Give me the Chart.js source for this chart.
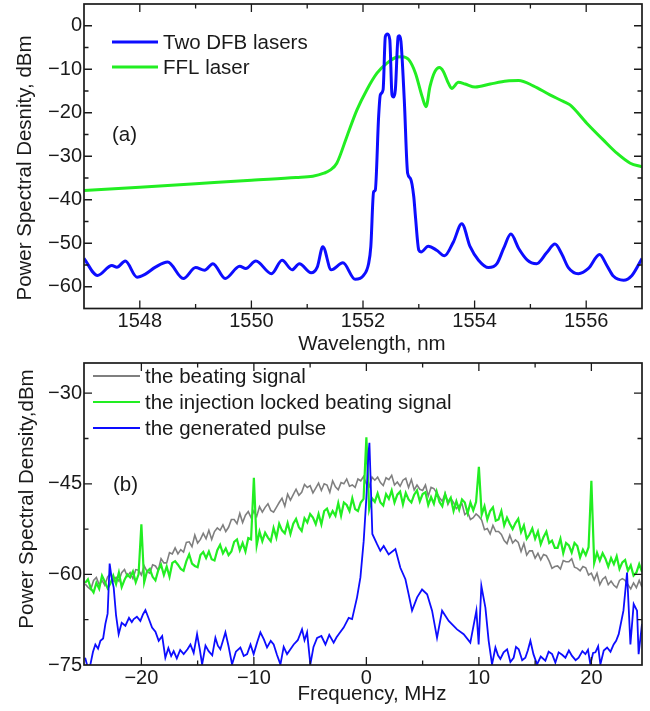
<!DOCTYPE html>
<html><head><meta charset="utf-8">
<script src="https://cdn.jsdelivr.net/npm/chart.js@4/dist/chart.umd.min.js"></script>
<style>
html,body{margin:0;padding:0;background:#fff;}
#wrap{position:relative;width:650px;height:711px;overflow:hidden;}
#c1{position:absolute;left:0;top:0;}
#c2{position:absolute;left:0;top:355px;}
</style></head><body>
<div id="wrap"><canvas id="c1" width="650" height="355"></canvas><canvas id="c2" width="650" height="356"></canvas></div>
<script>
// ---------- Panel (a) data ----------
const wlDfb = [1547.0,1547.24,1547.5,1547.59,1547.74,1547.95,1548.1,1548.28,1548.5,1548.78,1549.0,1549.16,1549.31,1549.53,1549.79,1549.9,1550.08,1550.36,1550.55,1550.73,1550.86,1551.07,1551.18,1551.28,1551.43,1551.64,1551.86,1552.01,1552.1,1552.14,1552.19,1552.22,1552.28,1552.31,1552.36,1552.4,1552.44,1552.48,1552.52,1552.55,1552.58,1552.63,1552.65,1552.68,1552.74,1552.8,1552.85,1552.91,1552.94,1553.0,1553.04,1553.17,1553.32,1553.46,1553.62,1553.77,1553.92,1554.07,1554.25,1554.4,1554.52,1554.65,1554.79,1554.94,1555.11,1555.29,1555.44,1555.56,1555.68,1555.86,1556.04,1556.24,1556.37,1556.49,1556.67,1556.82,1557.0];
const dfbPsd = [-53.5,-57.4,-55.1,-55.5,-54.1,-57.8,-57.1,-55.5,-54.3,-58.1,-55.6,-56.2,-54.7,-58.1,-55.3,-55.8,-54.1,-57.0,-53.9,-56.1,-54.7,-56.8,-55.5,-50.8,-56.1,-54.5,-58.3,-57.4,-54.7,-50.8,-38.2,-37.8,-20.9,-15.9,-14.7,-2.5,-1.9,-3.2,-15.9,-16.4,-14.7,-2.5,-2.3,-3.6,-17.1,-33.9,-35.1,-39.3,-43.9,-51.6,-52.0,-50.7,-51.6,-52.9,-49.7,-45.5,-50.8,-53.9,-55.6,-54.7,-51.2,-47.9,-51.2,-53.8,-54.7,-52.2,-50.2,-52.4,-55.6,-57.0,-55.8,-52.6,-55.1,-57.6,-58.5,-57.4,-53.5];
const wlFfl = [1547.0,1548.0,1549.0,1550.0,1550.8,1551.1,1551.3,1551.41,1551.53,1551.71,1551.89,1552.07,1552.25,1552.43,1552.61,1552.7,1552.82,1552.94,1553.06,1553.13,1553.2,1553.29,1553.37,1553.44,1553.53,1553.59,1553.71,1553.83,1554.01,1554.28,1554.58,1554.79,1555.05,1555.35,1555.59,1555.71,1556.01,1556.31,1556.55,1556.79,1557.0];
const fflPsd = [-37.9,-37.1,-36.3,-35.5,-34.9,-34.6,-33.9,-33.2,-31.6,-25.5,-19.4,-14.7,-10.9,-8.6,-7.2,-7.1,-7.8,-10.9,-16.3,-18.6,-14.0,-10.5,-9.6,-10.5,-13.2,-14.4,-13.0,-13.4,-14.1,-13.4,-12.7,-12.6,-13.8,-15.9,-17.4,-18.2,-22.4,-26.3,-29.3,-31.6,-32.4];
const wlTicks = [1548,1550,1552,1554,1556];
const wlMinor = [1549,1551,1553,1555];
const psdTicksA = [0,-10,-20,-30,-40,-50,-60];
const psdMinorA = [-5,-15,-25,-35,-45,-55];

// ---------- Panel (b) data ----------
const freqGrid = [-25,-24.75,-24.5,-24.25,-24,-23.75,-23.5,-23.25,-23,-22.75,-22.5,-22.25,-22,-21.75,-21.5,-21.25,-21,-20.75,-20.5,-20.25,-20,-19.75,-19.5,-19.25,-19,-18.75,-18.5,-18.25,-18,-17.75,-17.5,-17.25,-17,-16.75,-16.5,-16.25,-16,-15.75,-15.5,-15.25,-15,-14.75,-14.5,-14.25,-14,-13.75,-13.5,-13.25,-13,-12.75,-12.5,-12.25,-12,-11.75,-11.5,-11.25,-11,-10.75,-10.5,-10.25,-10,-9.75,-9.5,-9.25,-9,-8.75,-8.5,-8.25,-8,-7.75,-7.5,-7.25,-7,-6.75,-6.5,-6.25,-6,-5.75,-5.5,-5.25,-5,-4.75,-4.5,-4.25,-4,-3.75,-3.5,-3.25,-3,-2.75,-2.5,-2.25,-2,-1.75,-1.5,-1.25,-1,-0.75,-0.5,-0.25,0,0.25,0.5,0.75,1,1.25,1.5,1.75,2,2.25,2.5,2.75,3,3.25,3.5,3.75,4,4.25,4.5,4.75,5,5.25,5.5,5.75,6,6.25,6.5,6.75,7,7.25,7.5,7.75,8,8.25,8.5,8.75,9,9.25,9.5,9.75,10,10.25,10.5,10.75,11,11.25,11.5,11.75,12,12.25,12.5,12.75,13,13.25,13.5,13.75,14,14.25,14.5,14.75,15,15.25,15.5,15.75,16,16.25,16.5,16.75,17,17.25,17.5,17.75,18,18.25,18.5,18.75,19,19.25,19.5,19.75,20,20.25,20.5,20.75,21,21.25,21.5,21.75,22,22.25,22.5,22.75,23,23.25,23.5,23.75,24,24.25,24.5];
const beatingDb = [-61.6,-62.1,-62.5,-61.0,-60.5,-61.7,-61.0,-61.8,-60.4,-59.9,-61.1,-60.5,-61.1,-59.7,-59.2,-60.3,-59.7,-60.7,-59.2,-59.3,-60.1,-58.6,-59.5,-59.8,-58.4,-58.6,-59.3,-57.4,-58.1,-58.1,-56.4,-56.6,-55.6,-56.6,-55.9,-56.3,-54.7,-54.6,-55.4,-53.5,-54.8,-54.2,-53.2,-54.1,-52.7,-54.2,-52.9,-52.3,-52.7,-51.8,-52.9,-52.2,-50.9,-50.9,-51.6,-49.9,-51.4,-50.2,-49.6,-50.6,-49.5,-50.4,-48.8,-49.7,-48.9,-48.3,-49.4,-49.7,-48.9,-48.1,-47.4,-48.7,-46.7,-47.7,-46.8,-45.9,-46.9,-46.4,-45.1,-45.6,-45.3,-46.5,-45.7,-44.9,-46.1,-45.0,-45.2,-46.4,-44.5,-45.5,-46.0,-44.8,-45.0,-44.2,-45.4,-45.2,-45.6,-44.2,-44.5,-43.8,-45.0,-45.5,-43.9,-44.4,-43.9,-44.8,-45.3,-44.0,-44.3,-43.6,-45.2,-44.7,-45.4,-44.4,-44.1,-45.6,-44.3,-46.0,-45.2,-45.9,-46.1,-45.2,-47.0,-45.6,-45.8,-46.5,-47.3,-47.9,-46.6,-48.4,-47.4,-48.1,-49.1,-48.6,-48.3,-50.1,-49.7,-50.9,-50.6,-50.0,-50.4,-51.0,-52.6,-52.4,-53.3,-51.9,-52.9,-52.9,-53.4,-54.4,-54.9,-53.5,-54.8,-54.3,-54.7,-56.2,-54.9,-56.8,-56.1,-56.1,-57.3,-56.5,-57.6,-56.7,-56.9,-57.8,-59.0,-58.7,-58.6,-59.1,-57.7,-57.9,-57.9,-57.4,-58.8,-59.0,-59.4,-58.7,-58.9,-60.1,-59.8,-60.9,-59.8,-61.7,-60.8,-60.4,-61.7,-61.1,-61.8,-62.2,-61.0,-60.7,-61.0,-61.7,-62.4,-61.4,-62.2,-61.0,-62.1];
const lockedDb = [-61.4,-60.8,-62.3,-63.0,-61.4,-62.4,-60.2,-61.2,-62.3,-61.5,-60.2,-61.6,-59.7,-62.1,-60.9,-60.0,-60.5,-59.5,-61.3,-60.0,-51.7,-61.3,-59.5,-59.1,-60.4,-61.0,-59.3,-58.4,-60.1,-58.7,-60.4,-58.1,-57.8,-58.4,-59.1,-59.4,-57.8,-56.7,-58.2,-58.6,-58.8,-56.8,-56.3,-57.3,-56.2,-57.5,-57.7,-56.0,-55.1,-56.5,-55.7,-56.8,-56.2,-54.6,-54.2,-56.0,-54.8,-56.2,-54.0,-54.2,-44.0,-55.2,-52.9,-54.5,-53.1,-53.9,-54.5,-52.3,-53.9,-51.6,-52.7,-53.2,-51.5,-53.3,-51.6,-50.8,-52.2,-52.8,-50.7,-51.4,-50.0,-50.6,-51.7,-50.0,-51.7,-49.5,-49.1,-50.4,-49.5,-50.3,-48.2,-50.3,-48.1,-48.5,-49.5,-47.4,-49.2,-49.5,-48.1,-47.5,-37.3,-49.2,-47.4,-48.0,-46.6,-48.1,-48.6,-46.7,-47.5,-46.1,-48.1,-46.8,-46.3,-48.4,-46.5,-47.6,-48.1,-46.8,-46.1,-47.9,-46.7,-46.4,-48.5,-47.2,-48.3,-46.3,-48.0,-48.7,-46.7,-48.1,-47.3,-49.5,-47.9,-49.3,-47.6,-48.1,-49.9,-48.1,-49.4,-48.0,-42.2,-50.1,-48.7,-50.9,-49.5,-48.9,-51.1,-50.9,-49.5,-51.9,-50.6,-51.6,-52.5,-51.5,-50.8,-53.0,-51.9,-54.1,-53.4,-52.4,-54.1,-52.9,-55.0,-53.8,-52.9,-54.8,-54.4,-55.6,-55.6,-54.1,-56.5,-54.8,-55.2,-56.4,-54.8,-55.3,-57.2,-55.9,-56.8,-55.5,-44.5,-58.1,-56.4,-57.7,-56.5,-57.4,-58.7,-57.3,-58.3,-57.0,-59.1,-58.0,-57.6,-59.4,-58.5,-60.2,-59.7,-58.3,-59.6];
const pulseFreq = [-25.0,-24.75,-24.53,-24.3,-24.09,-23.85,-23.64,-23.4,-23.2,-23.0,-22.82,-22.65,-22.46,-22.25,-22.02,-21.75,-21.42,-21.1,-20.85,-20.68,-20.4,-20.09,-19.85,-19.64,-19.35,-19.05,-18.75,-18.46,-18.15,-17.87,-17.6,-17.35,-17.13,-16.85,-16.55,-16.24,-15.9,-15.64,-15.35,-15.05,-14.8,-14.6,-14.3,-14.02,-13.7,-13.42,-13.2,-12.98,-12.75,-12.53,-12.25,-11.94,-11.6,-11.2,-10.9,-10.6,-10.3,-10.02,-9.7,-9.42,-9.1,-8.83,-8.5,-8.24,-7.95,-7.64,-7.35,-7.05,-6.75,-6.46,-6.1,-5.72,-5.5,-5.27,-4.98,-4.7,-4.38,-4.0,-3.64,-3.3,-2.91,-2.65,-2.46,-2.02,-1.57,-1.27,-0.83,-0.53,-0.24,0,0.18,0.27,0.38,0.53,0.95,1.24,1.54,1.98,2.58,3.02,3.47,3.76,4.06,4.51,4.95,5.4,5.84,6.28,6.73,7.32,8.06,8.65,9.24,9.78,9.98,10.22,10.58,10.87,11.17,11.47,11.7,11.91,12.2,12.51,12.8,13.09,13.3,13.54,13.85,14.13,14.35,14.58,14.85,15.17,15.5,15.91,16.2,16.51,16.8,17.09,17.4,17.69,18.0,18.28,18.6,18.87,19.2,19.47,19.7,19.91,20.15,20.36,20.6,20.8,21.1,21.4,21.7,21.98,22.2,22.43,22.85,23.17,23.47,23.76,24.06,24.2,24.5];
const pulseDb = [-73.8,-75.5,-74.9,-72.8,-71.6,-72.3,-71.0,-70.6,-68.2,-66.5,-58.2,-60.5,-62.2,-66.8,-69.9,-68.0,-68.5,-67.2,-67.9,-67.4,-67.0,-67.7,-66.6,-65.9,-67.3,-68.8,-69.5,-71.0,-70.2,-73.8,-72.2,-73.5,-72.7,-73.9,-72.5,-73.2,-72.4,-71.6,-73.0,-69.9,-72.5,-74.9,-71.8,-72.7,-73.4,-70.5,-71.8,-72.4,-71.0,-69.6,-71.9,-74.9,-72.8,-72.1,-73.5,-73.2,-71.6,-73.2,-71.2,-69.6,-70.8,-72.1,-71.0,-71.6,-73.3,-74.9,-72.0,-73.2,-72.4,-71.6,-70.9,-69.1,-70.9,-69.6,-74.9,-72.0,-70.5,-70.2,-71.6,-70.0,-71.3,-70.4,-69.9,-68.8,-67.2,-67.4,-63.8,-60.5,-54.5,-47.3,-40.1,-38.2,-44.5,-53.3,-55.0,-56.1,-55.3,-56.7,-55.8,-58.9,-60.8,-63.3,-66.0,-63.8,-62.5,-63.3,-66.0,-70.5,-66.0,-67.7,-69.1,-69.9,-71.3,-66.0,-71.6,-61.9,-65.5,-71.0,-74.9,-72.1,-73.4,-74.0,-72.9,-72.4,-74.5,-73.8,-72.0,-72.4,-74.2,-73.8,-72.6,-71.0,-73.2,-74.9,-73.6,-74.3,-72.8,-73.2,-74.6,-72.9,-73.3,-73.8,-72.6,-73.5,-74.2,-73.8,-72.7,-73.2,-72.5,-74.9,-73.0,-72.9,-71.9,-74.9,-72.6,-72.1,-72.8,-71.6,-71.0,-69.9,-66.0,-59.7,-71.6,-64.9,-66.0,-73.2,-68.2];
const freqTicks = [-20,-10,0,10,20];
const freqMinor = [-15,-5,5,15];
const psdTicksB = [-30,-45,-60,-75];
const psdMinorB = [-37.5,-52.5,-67.5];

// ---------- styling ----------
const BLUE = '#0d0dff', GREEN = '#22ee22', GRAY = '#7f7f7f', INK = '#1a1a1a';
const FONT = '"Liberation Sans", Arial, sans-serif';
const TXT = '20.5px ' + FONT;

const framePlugin = {
  id: 'frame',
  afterDatasetsDraw(chart, args, o) {
    const {ctx, chartArea: a, scales} = chart;
    const xs = scales.x, ys = scales.y;
    ctx.save();
    ctx.strokeStyle = INK;
    ctx.lineWidth = 1.3;
    ctx.beginPath();
    const xt = o.xMajor.map(v => [v, 8]).concat(o.xMinor.map(v => [v, 4.5]));
    const yt = o.yMajor.map(v => [v, 8]).concat(o.yMinor.map(v => [v, 4.5]));
    xt.forEach(([v, L]) => {
      const p = xs.getPixelForValue(v);
      if (p <= a.left + 1 || p >= a.right - 1) return;
      ctx.moveTo(p, a.bottom); ctx.lineTo(p, a.bottom - L);
      ctx.moveTo(p, a.top); ctx.lineTo(p, a.top + L);
    });
    yt.forEach(([v, L]) => {
      const p = ys.getPixelForValue(v);
      if (p <= a.top + 1 || p >= a.bottom - 1) return;
      ctx.moveTo(a.left, p); ctx.lineTo(a.left + L, p);
      ctx.moveTo(a.right, p); ctx.lineTo(a.right - L, p);
    });
    ctx.stroke();
    ctx.lineWidth = 1.7;
    ctx.strokeRect(a.left, a.top, a.right - a.left, a.bottom - a.top);
    ctx.restore();
  }
};

const textPlugin = {
  id: 'texts',
  afterDraw(chart, args, o) {
    const ctx = chart.ctx;
    ctx.save();
    ctx.fillStyle = INK;
    ctx.textBaseline = 'middle';
    o.items.forEach(t => {
      ctx.save();
      ctx.font = TXT;
      ctx.translate(t.x, t.y);
      if (t.rot) ctx.rotate(t.rot);
      ctx.textAlign = t.align || 'left';
      ctx.fillText(t.text, 0, 0);
      ctx.restore();
    });
    const L = o.legend;
    L.rows.forEach((y, i) => {
      const ds = chart.data.datasets[L.order[i]];
      ctx.strokeStyle = ds.borderColor;
      ctx.lineWidth = L.lw;
      ctx.beginPath(); ctx.moveTo(L.x1, y); ctx.lineTo(L.x2, y); ctx.stroke();
      ctx.font = TXT;
      ctx.textAlign = 'left';
      ctx.fillStyle = INK;
      ctx.fillText(ds.label, L.tx, y + 1);
    });
    ctx.restore();
  }
};

function pts(xs, ys) { return xs.map((x, i) => ({x: x, y: ys[i]})); }
function fixTicks(vals) { return s => { s.ticks = vals.map(v => ({value: v})); }; }
function fmt(v) { return v < 0 ? '\u2212' + String(-v) : String(v); }
const tickFont = {family: FONT, size: 20};

function axisX(min, max, ticks, h, pad) {
  return {type: 'linear', min: min, max: max, afterBuildTicks: fixTicks(ticks),
    afterFit: s => { s.height = h; s.paddingLeft = 0; s.paddingRight = 0; s.paddingTop = 0; s.paddingBottom = 0; },
    grid: {display: false, drawTicks: false}, border: {display: false},
    ticks: {font: tickFont, color: INK, padding: pad, maxRotation: 0, autoSkip: false, callback: fmt}};
}
function axisY(min, max, ticks) {
  return {type: 'linear', min: min, max: max, afterBuildTicks: fixTicks(ticks),
    afterFit: s => { s.width = 84; s.paddingTop = 0; s.paddingBottom = 0; s.paddingLeft = 0; s.paddingRight = 0; },
    grid: {display: false, drawTicks: false}, border: {display: false},
    ticks: {font: tickFont, color: INK, padding: 2, autoSkip: false, callback: fmt}};
}

new Chart(document.getElementById('c1'), {
  type: 'scatter',
  data: {datasets: [
    {label: 'Two DFB lasers', data: pts(wlDfb, dfbPsd), showLine: true, borderColor: BLUE, borderWidth: 3, pointRadius: 0, cubicInterpolationMode: 'monotone'},
    {label: 'FFL laser', data: pts(wlFfl, fflPsd), showLine: true, borderColor: GREEN, borderWidth: 3, pointRadius: 0, cubicInterpolationMode: 'monotone'}
  ]},
  options: {
    responsive: false, animation: false, devicePixelRatio: 1, events: [],
    layout: {padding: {left: 0, right: 8, top: 4, bottom: 0}},
    plugins: {
      legend: {display: false}, tooltip: {enabled: false},
      frame: {xMajor: wlTicks, xMinor: wlMinor, yMajor: psdTicksA, yMinor: psdMinorA},
      texts: {
        items: [
          {text: 'Power Spectral Desnity, dBm', x: 25, y: 168, rot: -Math.PI / 2, align: 'center'},
          {text: 'Wavelength, nm', x: 372, y: 344, align: 'center'},
          {text: '(a)', x: 112, y: 135}
        ],
        legend: {rows: [42, 67], order: [0, 1], x1: 112, x2: 158, tx: 163, lw: 3}
      }
    },
    scales: {x: axisX(1547, 1557, wlTicks, 46.5, 1), y: axisY(-65, 5, psdTicksA)}
  },
  plugins: [framePlugin, textPlugin]
});

new Chart(document.getElementById('c2'), {
  type: 'scatter',
  data: {datasets: [
    {label: 'the generated pulse', data: pts(pulseFreq, pulseDb), showLine: true, borderColor: BLUE, borderWidth: 1.8, pointRadius: 0, tension: 0},
    {label: 'the injection locked beating signal', data: pts(freqGrid, lockedDb), showLine: true, borderColor: GREEN, borderWidth: 2.2, pointRadius: 0, tension: 0},
    {label: 'the beating signal', data: pts(freqGrid, beatingDb), showLine: true, borderColor: GRAY, borderWidth: 1.6, pointRadius: 0, tension: 0}
  ]},
  options: {
    responsive: false, animation: false, devicePixelRatio: 1, events: [],
    layout: {padding: {left: 0, right: 8, top: 8, bottom: 0}},
    plugins: {
      legend: {display: false}, tooltip: {enabled: false},
      frame: {xMajor: freqTicks, xMinor: freqMinor, yMajor: psdTicksB, yMinor: psdMinorB},
      texts: {
        items: [
          {text: 'Power Spectral Density,dBm', x: 27, y: 144, rot: -Math.PI / 2, align: 'center'},
          {text: 'Frequency, MHz', x: 372, y: 339, align: 'center'},
          {text: '(b)', x: 113, y: 130}
        ],
        legend: {rows: [21, 47, 73], order: [2, 1, 0], x1: 93, x2: 140, tx: 145, lw: 2}
      }
    },
    scales: {x: axisX(-25.1, 24.5, freqTicks, 46, 1), y: axisY(-75, -25, psdTicksB)}
  },
  plugins: [framePlugin, textPlugin]
});
</script>
</body></html>
